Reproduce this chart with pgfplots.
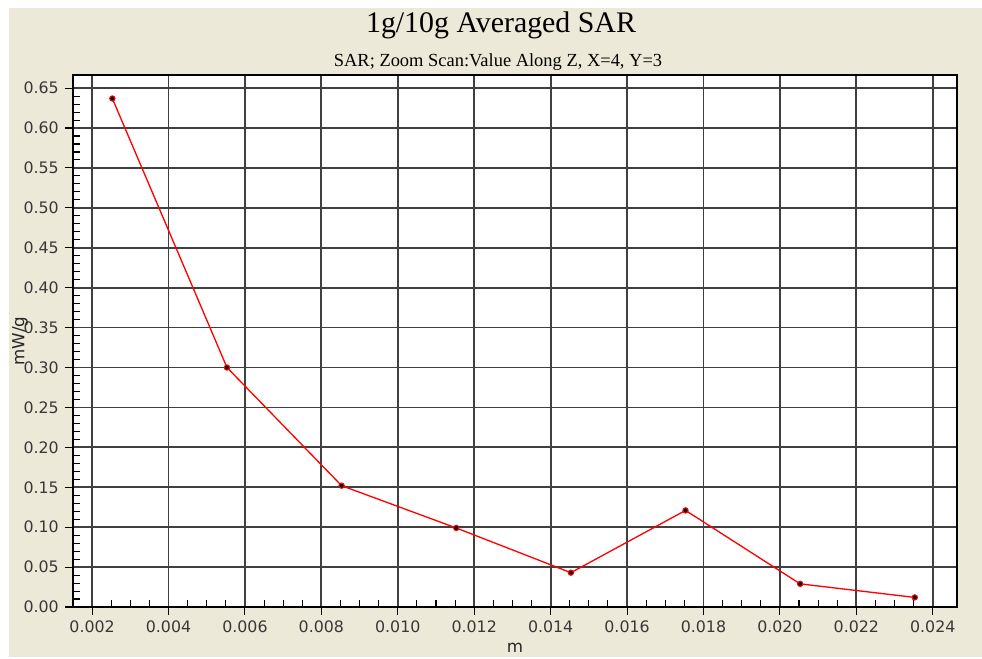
\documentclass[border=0pt]{standalone}
\usepackage{fontspec}
\setmainfont{Liberation Serif}
\newfontfamily\uifont{DejaVu Sans}
\usepackage{pgfplots}
\pgfplotsset{compat=1.18}
\definecolor{panelbg}{RGB}{236,233,216}

\begin{document}
\begin{tikzpicture}
% window panel, in pixel units of the reference (1px = 0.02cm)
\begin{scope}[x=0.02cm,y=0.02cm]
\fill[white] (0,0) rectangle (982,657);
\fill[panelbg] (9,0) rectangle (982,649);
\node[font=\fontsize{17}{19}\selectfont, anchor=base] at (501,624) {1g/10g Averaged SAR};
\node[font=\fontsize{10.5}{12}\selectfont, anchor=base] at (498,590) {SAR; Zoom Scan:Value Along Z, X=4, Y=3};
\end{scope}

\begin{axis}[
    at={(1.46cm,1.0cm)}, anchor=south west,
    scale only axis,
    width=17.68cm, height=10.64cm,
    xmin=0.0015, xmax=0.02463,
    ymin=0, ymax=0.6663,
    xtick={0.002,0.004,0.006,0.008,0.010,0.012,0.014,0.016,0.018,0.020,0.022,0.024},
    ytick={0,0.05,0.10,0.15,0.20,0.25,0.30,0.35,0.40,0.45,0.50,0.55,0.60,0.65},
    minor x tick num=3,
    minor y tick num=4,
    xtick pos=bottom, ytick pos=left,
    tick align=outside,
    major tick length=0.16cm,
    minor tick length=-0.14cm,
    grid=major,
    major grid style={draw=black!75, line width=1pt},
    axis line style={black, line width=0.8pt},
    tick style={black, line width=0.6pt},
    axis background/.style={fill=white},
    /pgf/number format/assume math mode=true,
    ticklabel style={font=\uifont\fontsize{9}{10}\selectfont, text=black!78},
    scaled x ticks=false, scaled y ticks=false,
    xticklabel style={/pgf/number format/.cd, fixed, fixed zerofill, precision=3},
    yticklabel style={/pgf/number format/.cd, fixed, fixed zerofill, precision=2},
    xlabel={m}, ylabel={mW/g},
    label style={font=\uifont\fontsize{9.5}{11}\selectfont, text=black!85},
    xlabel style={at={(axis description cs:0.5,-0.077)}, anchor=center},
    ylabel style={at={(axis description cs:-0.06,0.5)}, anchor=center},
]
\addplot[color=red, line width=0.75pt, mark=*, mark size=1.5pt,
    mark options={fill=black, draw=red, line width=0.6pt}] coordinates {
    (0.00253,0.637)
    (0.00553,0.300)
    (0.00853,0.152)
    (0.01153,0.099)
    (0.01453,0.043)
    (0.01753,0.121)
    (0.02053,0.029)
    (0.02353,0.012)
};
\end{axis}
\end{tikzpicture}
\end{document}
